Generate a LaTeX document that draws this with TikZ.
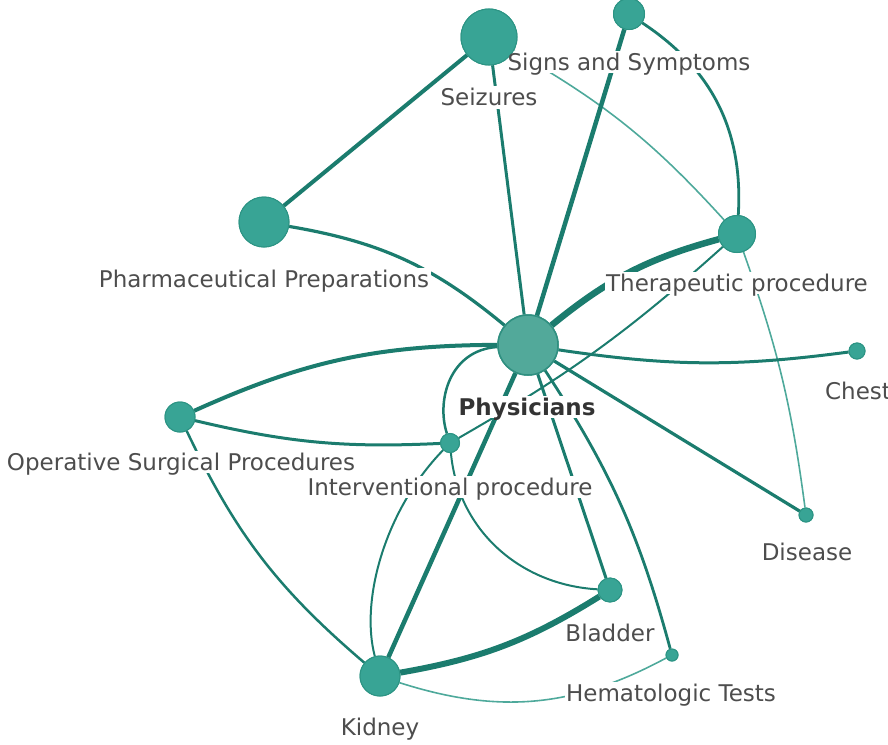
\documentclass[tikz,border=0pt]{standalone}
\usepackage{fontspec}
\setmainfont{DejaVu Sans}
\definecolor{edgec}{HTML}{1B7C6E}
\definecolor{lightedge}{HTML}{4EA99B}
\definecolor{nodefill}{HTML}{38A495}
\definecolor{nodeline}{HTML}{2C9484}
\definecolor{physfill}{HTML}{52A99A}
\definecolor{physline}{HTML}{2F8F80}
\definecolor{labelc}{HTML}{4D4D4D}
\tikzset{
  vert/.style={circle, fill=nodefill, draw=nodeline, line width=1pt, inner sep=0pt, minimum size=#1},
  physnode/.style={circle, fill=physfill, draw=physline, line width=1.5pt, inner sep=0pt, minimum size=60pt},
  lab/.style={text=labelc, font=\fontsize{23}{26}\selectfont, inner sep=0pt, text height=16.5pt, text depth=0pt},
  labbg/.style={fill=white, font=\fontsize{23}{26}\selectfont, inner xsep=1.5pt, inner ysep=0pt, text height=18pt, text depth=4.5pt},
  ed/.style={draw=edgec, line width=#1},
  led/.style={draw=lightedge, line width=1.6pt},
}
\begin{document}
\begin{tikzpicture}[x=1pt,y=-1pt]
\useasboundingbox (0,0) rectangle (888,744);
% nodes
\node[physnode] (P) at (528,345) {};
\node[vert=56pt] (S) at (489,37) {};
\node[vert=31pt] (SS) at (629,14) {};
\node[vert=37pt] (T) at (737,234) {};
\node[vert=50pt] (PP) at (264,222) {};
\node[vert=16pt] (C) at (857,351) {};
\node[vert=30pt] (O) at (180,417) {};
\node[vert=19pt] (I) at (450,443) {};
\node[vert=14pt] (D) at (806,515) {};
\node[vert=24pt] (B) at (610,590) {};
\node[vert=12pt] (H) at (672,655) {};
\node[vert=40pt] (K) at (380,676) {};
% edges
\path[led] (S) to[bend left=9] (T);
\path[led] (T) to[bend left=6] (D);
\path[led] (K) to[bend right=23] (H);
\path[ed=4pt] (S) -- (PP);
\path[ed=3pt] (S) -- (P);
\path[ed=4.5pt] (SS) -- (P);
\path[ed=2.8pt] (SS) to[bend left=30] (T);
\path[ed=6.5pt] (T) to[bend right=12] (P);
\path[ed=3.2pt] (PP) to[bend left=15] (P);
\path[ed=2pt] (T) to[bend left=6] (I);
\path[ed=3pt] (P) to[bend right=8] (C);
\path[ed=4pt] (O) to[bend left=12] (P);
\path[ed=3pt] (O) to[bend right=8] (I);
\path[ed=2.5pt] (O) to[bend right=12] (K);
\path[ed=2.5pt] (P) .. controls (450,350) and (436,400) .. (I);
\path[ed=2pt] (I) .. controls (458,530) and (520,585) .. (B);
\path[ed=2pt] (I) .. controls (385,510) and (360,600) .. (K);
\path[ed=4.5pt] (P) -- (K);
\path[ed=6pt] (K) to[bend right=11] (B);
\path[ed=2.8pt] (P) to[bend left=9] (H);
\path[ed=3pt] (P) -- (B);
\path[ed=3.2pt] (P) -- (D);
% white backgrounds of labels
\node[labbg] at (489,97.5) {\phantom{Seizures}};
\node[labbg] at (629,62) {\phantom{Signs and Symptoms}};
\node[labbg] at (264,279) {\phantom{Pharmaceutical Preparations}};
\node[labbg] at (737,283) {\phantom{Therapeutic procedure}};
\node[labbg, font=\fontsize{23}{26}\selectfont\bfseries] at (527,407) {\phantom{Physicians}};
\node[labbg] at (858,391) {\phantom{Chest}};
\node[labbg] at (181,462) {\phantom{Operative Surgical Procedures}};
\node[labbg] at (450,487) {\phantom{Interventional procedure}};
\node[labbg] at (807,552) {\phantom{Disease}};
\node[labbg] at (610,633) {\phantom{Bladder}};
\node[labbg] at (671,693) {\phantom{Hematologic Tests}};
\node[labbg] at (380,727) {\phantom{Kidney}};
% redraw nodes on top
\node[physnode] at (528,345) {};
\node[vert=56pt] at (489,37) {};
\node[vert=31pt] at (629,14) {};
\node[vert=37pt] at (737,234) {};
\node[vert=50pt] at (264,222) {};
\node[vert=16pt] at (857,351) {};
\node[vert=30pt] at (180,417) {};
\node[vert=19pt] at (450,443) {};
\node[vert=14pt] at (806,515) {};
\node[vert=24pt] at (610,590) {};
\node[vert=12pt] at (672,655) {};
\node[vert=40pt] at (380,676) {};
% labels
\node[lab] (lS) at (489,97.5) {Seizures};
\node[lab] (lSS) at (629,62) {Signs and Symptoms};
\node[lab] (lPP) at (264,279) {Pharmaceutical Preparations};
\node[lab] (lT) at (737,283) {Therapeutic procedure};
\node[lab, text=black!80, font=\fontsize{23}{26}\selectfont\bfseries] (lP) at (527,407) {Physicians};
\node[lab] (lC) at (858,391) {Chest};
\node[lab] (lO) at (181,462) {Operative Surgical Procedures};
\node[lab] (lI) at (450,487) {Interventional procedure};
\node[lab] (lD) at (807,552) {Disease};
\node[lab] (lB) at (610,633) {Bladder};
\node[lab] (lH) at (671,693) {Hematologic Tests};
\node[lab] (lK) at (380,727) {Kidney};
\end{tikzpicture}
\end{document}
